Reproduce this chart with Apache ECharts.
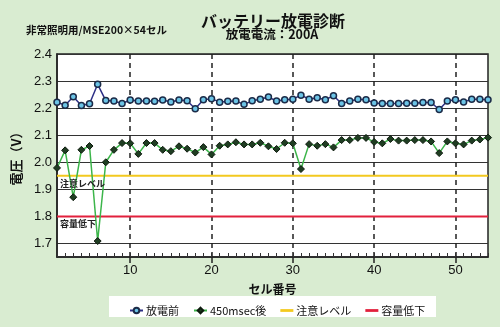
<!DOCTYPE html>
<html><head><meta charset="utf-8">
<script src="https://cdn.jsdelivr.net/npm/echarts@6/dist/echarts.min.js"></script>
<style>html,body{margin:0;padding:0;background:#d9ecd1}#c{width:500px;height:327px}</style>
</head><body><div id="c"></div>
<script>
// ---- data ----
const cellNumbers = [1,2,3,4,5,6,7,8,9,10,11,12,13,14,15,16,17,18,19,20,21,22,23,24,25,26,27,28,29,30,31,32,33,34,35,36,37,38,39,40,41,42,43,44,45,46,47,48,49,50,51,52,53,54];
const beforeDischarge = [2.222,2.211,2.242,2.210,2.216,2.288,2.228,2.226,2.217,2.230,
  2.226,2.226,2.225,2.230,2.223,2.230,2.227,2.198,2.231,2.235,
  2.222,2.225,2.226,2.214,2.227,2.233,2.241,2.226,2.231,2.233,
  2.248,2.233,2.238,2.231,2.246,2.217,2.226,2.233,2.231,2.219,
  2.217,2.217,2.217,2.218,2.218,2.221,2.221,2.195,2.226,2.231,
  2.223,2.233,2.233,2.231];
const after450ms = [1.979,2.044,1.871,2.046,2.060,1.709,2.000,2.046,2.071,2.070,
  2.031,2.071,2.071,2.046,2.041,2.059,2.050,2.036,2.056,2.029,
  2.061,2.066,2.074,2.066,2.066,2.072,2.059,2.049,2.072,2.070,
  1.975,2.067,2.061,2.067,2.055,2.082,2.082,2.090,2.090,2.075,
  2.070,2.086,2.080,2.080,2.082,2.082,2.077,2.034,2.077,2.070,
  2.066,2.080,2.084,2.091];
const cautionLevel = 1.95;
const lowCapacityLevel = 1.80;
const seriesNames = ['放電前','450msec後','注意レベル','容量低下'];
const xTickValues = [10,20,30,40,50];
const yTickValues = [1.7,1.8,1.9,2.0,2.1,2.2,2.3,2.4];
const xRange = [1,54];
const yRange = [1.65,2.4];

// ---- chart ----
const JP = '"Noto Sans CJK JP", sans-serif';
const NUM = '"Liberation Sans", Arial, sans-serif';
const pairs = (ys) => ys.map((v,i)=>[cellNumbers[i], v]);
const levelLine = (v) => [[xRange[0], v], [xRange[1], v]];
const thinLine = 'path://M0,0L14,0L14,3L0,3Z';

const chart = echarts.init(document.getElementById('c'), null, {renderer:'canvas'});
chart.setOption({
  backgroundColor: '#d9ecd1',
  animation: false,
  graphic: [
    {type:'text', x:273, y:13, z:10, style:{text:'バッテリー放電診断', font:'bold 16px '+JP, fill:'#111', textAlign:'center'}},
    {type:'text', x:272, y:28, z:10, style:{text:'放電電流：200A', font:'bold 12.5px '+JP, fill:'#111', textAlign:'center'}},
    {type:'text', x:26, y:25, z:10, style:{text:'非常照明用/MSE200×54セル', font:'bold 10.5px '+JP, fill:'#111'}},
    {type:'rect', z:0, shape:{x:109, y:296, width:327, height:21}, style:{fill:'#ffffff'}}
  ],
  grid: {left:57, top:54, right:12, bottom:70, show:true, backgroundColor:'#ffffff', borderColor:'#222', borderWidth:1.5},
  legend: {
    data: [
      {name:seriesNames[0]},
      {name:seriesNames[1]},
      {name:seriesNames[2], icon:thinLine, itemStyle:{color:'#f3c91f'}},
      {name:seriesNames[3], icon:thinLine, itemStyle:{color:'#e2203c'}}
    ],
    left: 124, top: 300, itemWidth: 13, itemHeight: 7, itemGap: 14, itemStyle:{},
    textStyle: {fontFamily: JP, fontSize: 11, color:'#111', padding:[0,0,0,-2]}, z: 5
  },
  xAxis: [
    {type:'value', min:xRange[0], max:xRange[1], position:'bottom',
     name:'セル番号', nameLocation:'middle', nameGap:26,
     nameTextStyle:{fontFamily:JP, fontSize:12, fontWeight:'bold', color:'#111'},
     axisLine:{show:true, lineStyle:{color:'#222', width:1.5}},
     axisTick:{show:true, customValues:xTickValues, length:6, lineStyle:{color:'#222', width:1.5}},
     axisLabel:{customValues:xTickValues, fontFamily:NUM, fontSize:13, color:'#111', margin:7},
     splitLine:{show:true, lineStyle:{color:'#222', width:1.5, type:[5,4]}}},
    {type:'value', min:xRange[0], max:xRange[1], position:'bottom',
     axisLine:{show:false},
     axisTick:{show:true, inside:true, customValues:cellNumbers, length:4, lineStyle:{color:'#333', width:1}},
     axisLabel:{show:false}, splitLine:{show:false}}
  ],
  yAxis: {
    type:'value', min:yRange[0], max:yRange[1],
    name:'電圧（V）', nameLocation:'middle', nameGap:34, nameRotate:90,
    nameTextStyle:{fontFamily:JP, fontSize:13, fontWeight:'bold', color:'#111'},
    axisLine:{show:true, lineStyle:{color:'#222', width:1.5}},
    axisTick:{show:false, customValues:yTickValues},
    axisLabel:{customValues:yTickValues, fontFamily:NUM, fontSize:13, color:'#111', margin:5,
      formatter:(v)=>v.toFixed(1)},
    splitLine:{show:true, lineStyle:{color:'#333', width:1}}
  },
  series: [
    {name:seriesNames[2], type:'line', data:levelLine(cautionLevel), symbol:'none', silent:true, z:2,
     lineStyle:{color:'#f3c91f', width:2}, itemStyle:{color:'#f3c91f'},
     markLine:{symbol:'none', silent:true, lineStyle:{color:'rgba(0,0,0,0)', width:1},
       label:{show:true, position:'insideStartBottom', formatter:'注意レベル', fontFamily:JP, fontSize:9, fontWeight:'bold', color:'#222', distance:[3,3]},
       data:[{yAxis:cautionLevel}]}},
    {name:seriesNames[3], type:'line', data:levelLine(lowCapacityLevel), symbol:'none', silent:true, z:2,
     lineStyle:{color:'#e2203c', width:2}, itemStyle:{color:'#e2203c'},
     markLine:{symbol:'none', silent:true, lineStyle:{color:'rgba(0,0,0,0)', width:1},
       label:{show:true, position:'insideStartBottom', formatter:'容量低下', fontFamily:JP, fontSize:9, fontWeight:'bold', color:'#222', distance:[3,3]},
       data:[{yAxis:lowCapacityLevel}]}},
    {name:seriesNames[0], type:'line', data:pairs(beforeDischarge), z:3,
     symbol:'circle', symbolSize:6,
     lineStyle:{color:'#2d2f86', width:1.5},
     itemStyle:{color:'#6cc4e6', borderColor:'#1b2b48', borderWidth:1.5}},
    {name:seriesNames[1], type:'line', data:pairs(after450ms), z:3,
     symbol:'diamond', symbolSize:7,
     lineStyle:{color:'#3cb54a', width:1.5},
     itemStyle:{color:'#1f3d22', borderColor:'#0e1a0e', borderWidth:1}}
  ]
});
</script></body></html>
